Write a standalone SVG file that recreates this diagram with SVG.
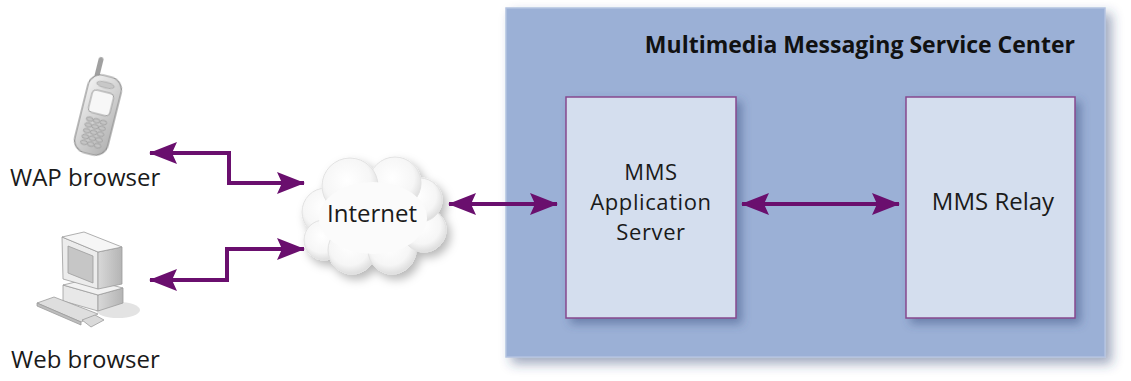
<svg xmlns="http://www.w3.org/2000/svg" width="1131" height="381" viewBox="0 0 1131 381">
  <defs>
    <style>
      .lbl { font-family: "Open Sans", "Liberation Sans", sans-serif; font-size: 24px; fill: #1a1a1a; }
      .lbl-sm { font-family: "Open Sans", "Liberation Sans", sans-serif; font-size: 22px; letter-spacing: 0.6px; fill: #1a1a1a; }
      .ttl { font-family: "Open Sans", "Liberation Sans", sans-serif; font-size: 23px; font-weight: bold; fill: #111; }
      .box { fill: #d4deee; stroke: #86488f; stroke-width: 1.5; }
      .wire { fill: none; stroke: #6a0f6e; stroke-width: 4; }
      .puff { fill: url(#puff); }
    </style>
    <marker id="head" viewBox="0 0 28 22" refX="27" refY="11" markerWidth="28" markerHeight="22" markerUnits="userSpaceOnUse" orient="auto-start-reverse">
      <path d="M0,0 L28,11 L0,22 L5,11 Z" fill="#6a0f6e"/>
    </marker>
    <filter id="soft" x="-20%" y="-20%" width="150%" height="150%">
      <feGaussianBlur in="SourceAlpha" stdDeviation="6"/>
      <feOffset dx="6" dy="6" result="b"/>
      <feFlood flood-color="#2a3f70" flood-opacity="0.45"/>
      <feComposite in2="b" operator="in"/>
      <feMerge><feMergeNode/><feMergeNode in="SourceGraphic"/></feMerge>
    </filter>
    <filter id="boxshadow" x="-20%" y="-20%" width="150%" height="150%">
      <feGaussianBlur in="SourceAlpha" stdDeviation="5"/>
      <feOffset dx="5" dy="5" result="b"/>
      <feFlood flood-color="#3a4f80" flood-opacity="0.5"/>
      <feComposite in2="b" operator="in"/>
      <feMerge><feMergeNode/><feMergeNode in="SourceGraphic"/></feMerge>
    </filter>
    <filter id="dropshadow" x="-30%" y="-30%" width="170%" height="170%">
      <feGaussianBlur in="SourceAlpha" stdDeviation="5"/>
      <feOffset dx="4" dy="5" result="b"/>
      <feFlood flood-color="#000" flood-opacity="0.28"/>
      <feComposite in2="b" operator="in"/>
      <feMerge><feMergeNode/><feMergeNode in="SourceGraphic"/></feMerge>
    </filter>
    <filter id="blur1"><feGaussianBlur stdDeviation="0.6"/></filter>
    <radialGradient id="puff" cx="0.45" cy="0.4" r="0.6">
      <stop offset="0" stop-color="#ffffff"/>
      <stop offset="0.7" stop-color="#f6f6f6"/>
      <stop offset="1" stop-color="#dedede"/>
    </radialGradient>
    <linearGradient id="grey" x1="0" y1="0" x2="1" y2="1">
      <stop offset="0" stop-color="#f4f4f4"/>
      <stop offset="1" stop-color="#b0b0b0"/>
    </linearGradient>
    <linearGradient id="greyside" x1="0" y1="0" x2="1" y2="0">
      <stop offset="0" stop-color="#d8d8d8"/>
      <stop offset="1" stop-color="#b4b4b4"/>
    </linearGradient>
  </defs>

  <rect width="1131" height="381" fill="#ffffff"/>

  <!-- service center container -->
  <g id="mmsc">
    <rect x="506" y="8" width="599" height="349" fill="#9bb0d6" stroke="#b3c2e0" stroke-width="1.5" filter="url(#soft)"/>
    <text class="ttl" x="1075" y="53" text-anchor="end">Multimedia Messaging Service Center</text>
  </g>

  <g id="app-server">
    <rect class="box" x="566" y="97" width="170" height="221" filter="url(#boxshadow)"/>
    <text class="lbl-sm" x="651" y="180" text-anchor="middle">MMS</text>
    <text class="lbl-sm" x="651" y="210" text-anchor="middle">Application</text>
    <text class="lbl-sm" x="651" y="240" text-anchor="middle">Server</text>
  </g>

  <g id="relay">
    <rect class="box" x="906" y="97" width="169" height="221" filter="url(#boxshadow)"/>
    <text class="lbl" x="993" y="210" text-anchor="middle">MMS Relay</text>
  </g>

  <!-- internet cloud -->
  <g id="internet">
    <g filter="url(#dropshadow)">
      <g stroke="#e2e2e2" stroke-width="1">
        <circle class="puff" cx="326" cy="212" r="24"/>
        <circle class="puff" cx="324" cy="240" r="20"/>
        <circle class="puff" cx="352" cy="250" r="24"/>
        <circle class="puff" cx="392" cy="250" r="24"/>
        <circle class="puff" cx="424" cy="230" r="22"/>
        <circle class="puff" cx="420" cy="200" r="22"/>
        <circle class="puff" cx="395" cy="183" r="26"/>
        <circle class="puff" cx="350" cy="186" r="28"/>
      </g>
      <ellipse cx="373" cy="218" rx="54" ry="36" fill="#fbfbfb"/>
    </g>
    <text class="lbl" x="372" y="222" text-anchor="middle">Internet</text>
  </g>

  <!-- mobile handset -->
  <g id="wap-browser">
    <g transform="rotate(14 98 115)" filter="url(#blur1)">
      <rect x="85" y="58" width="5" height="22" rx="2.5" fill="#a0a0a0"/>
      <rect x="81" y="75" width="34" height="80" rx="13" fill="url(#grey)" stroke="#8c8c8c" stroke-width="1.2"/>
      <ellipse cx="98" cy="84" rx="9" ry="3" fill="#c8c8c8" stroke="#999" stroke-width="0.6"/>
      <rect x="87" y="91" width="22" height="23" rx="4" fill="#f7f7f7" stroke="#9a9a9a"/>
      <g fill="#c4c4c4" stroke="#8a8a8a" stroke-width="0.6">
        <ellipse cx="91" cy="121" rx="3.5" ry="2.2"/><ellipse cx="98" cy="121" rx="3.5" ry="2.2"/><ellipse cx="105" cy="121" rx="3.5" ry="2.2"/>
        <ellipse cx="91" cy="127" rx="3.5" ry="2.2"/><ellipse cx="98" cy="127" rx="3.5" ry="2.2"/><ellipse cx="105" cy="127" rx="3.5" ry="2.2"/>
        <ellipse cx="91" cy="133" rx="3.5" ry="2.2"/><ellipse cx="98" cy="133" rx="3.5" ry="2.2"/><ellipse cx="105" cy="133" rx="3.5" ry="2.2"/>
        <ellipse cx="91" cy="139" rx="3.5" ry="2.2"/><ellipse cx="98" cy="139" rx="3.5" ry="2.2"/><ellipse cx="105" cy="139" rx="3.5" ry="2.2"/>
        <ellipse cx="91" cy="145" rx="3.5" ry="2.2"/><ellipse cx="98" cy="145" rx="3.5" ry="2.2"/><ellipse cx="105" cy="145" rx="3.5" ry="2.2"/>
      </g>
    </g>
    <text class="lbl" x="10" y="186">WAP browser</text>
  </g>

  <!-- desktop computer -->
  <g id="web-browser">
    <g filter="url(#blur1)" stroke="#9c9c9c" stroke-width="0.8" stroke-linejoin="round">
      <!-- floor shadow -->
      <ellipse cx="118" cy="310" rx="22" ry="8" fill="#d0d0d0" stroke="none" opacity="0.6"/>
      <!-- system case -->
      <polygon points="63,285 98,295 98,311 63,301" fill="#e8e8e8"/>
      <polygon points="98,295 123,288 123,303 98,311" fill="url(#greyside)"/>
      <polygon points="63,285 88,279 123,288 98,295" fill="#f2f2f2"/>
      <!-- monitor -->
      <polygon points="62,237 98,252 98,289 63,279" fill="#ececec"/>
      <polygon points="98,252 122,247 122,284 98,289" fill="url(#greyside)"/>
      <polygon points="62,237 84,232 122,247 98,252" fill="#f6f6f6"/>
      <polygon points="68,246 93,256 93,283 68,273" fill="#c6c6c6"/>
      <!-- keyboard and mouse -->
      <polygon points="37,303 54,297 98,314 81,322" fill="#dedede"/>
      <polygon points="37,303 81,322 81,325 37,306" fill="#bdbdbd"/>
      <polygon points="82,320 95,315 104,320 91,327" fill="#dadada"/>
    </g>
    <text class="lbl" x="11" y="368">Web browser</text>
  </g>

  <!-- connectors -->
  <g id="connectors">
    <path class="wire" d="M150,153 H229 V183 H304" marker-start="url(#head)" marker-end="url(#head)"/>
    <path class="wire" d="M150,280 H227 V249 H304" marker-start="url(#head)" marker-end="url(#head)"/>
    <path class="wire" d="M449,204 H557" marker-start="url(#head)" marker-end="url(#head)"/>
    <path class="wire" d="M742,204 H899" marker-start="url(#head)" marker-end="url(#head)"/>
  </g>
</svg>
